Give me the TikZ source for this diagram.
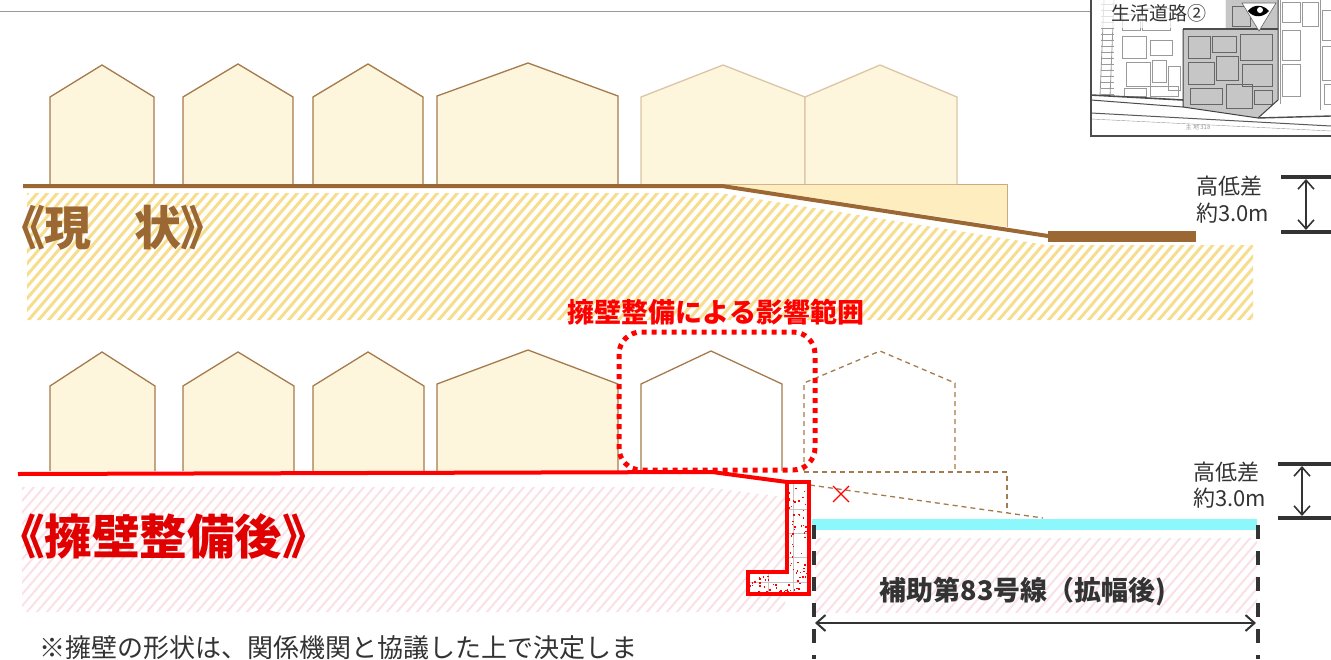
\documentclass[tikz,border=0pt]{standalone}
\usepackage{fontspec}
\newfontfamily\jp{Noto Sans CJK JP}
\newfontfamily\jpt[RawFeature={+palt}]{Noto Sans CJK JP}
\usetikzlibrary{arrows.meta}
\definecolor{soil}{HTML}{9B6733}
\definecolor{housefill}{HTML}{FDF5DC}
\definecolor{houseline}{HTML}{A57A4C}
\definecolor{houselight}{HTML}{DCC4A6}
\definecolor{boxfill}{HTML}{FEEDBF}
\definecolor{boxline}{HTML}{CCAA80}
\definecolor{hatchy}{HTML}{F6DE8E}
\definecolor{hatchp}{HTML}{FBE1E7}
\definecolor{wallred}{HTML}{FF0000}
\definecolor{titlered}{HTML}{E00000}
\definecolor{ink}{HTML}{333333}
\definecolor{roadcyan}{HTML}{8DF8FC}
\definecolor{mapgray}{HTML}{9A9A9A}
\definecolor{mapshade}{HTML}{C6C6C6}
\tikzset{
  house/.style={draw=houseline, fill=housefill, line width=1.3pt, line join=miter},
  houseghost/.style={draw=houselight, fill=housefill, line width=1.3pt},
  housedash/.style={draw=houseline, line width=1.3pt, dash pattern=on 5pt off 4pt},
  ystripe/.style={hatchy, line width=3pt},
  pstripe/.style={hatchp, line width=2pt},
  dimbar/.style={ink, line width=4pt},
  dimarrow/.style={ink, line width=1.6pt, {Straight Barb[length=9pt,width=16pt]}-{Straight Barb[length=9pt,width=16pt]}},
  limitline/.style={ink, line width=4pt, dash pattern=on 14pt off 12pt},
  mapline/.style={mapgray, line width=0.4pt},
  dimtext/.style={ink, font=\jp\fontsize{22}{26}\selectfont, inner sep=0pt, anchor=west, align=left},
  nowtitle/.style={text=soil, font=\jpt\bfseries\fontsize{47}{52}\selectfont, inner sep=0pt, anchor=west},
}
\begin{document}
\begin{tikzpicture}[x=1pt,y=-1pt]
\useasboundingbox (0,0) rectangle (1331,659);
\clip (0,0) rectangle (1331,659);

% ---------- upper section: present state ----------
\draw[mapgray, line width=1pt] (0,11) -- (1091,11);

% soil hatch
\begin{scope}
  \clip (27,193) -- (720,193) -- (1046,245) -- (1253,245) -- (1253,320) -- (27,320) -- cycle;
  \foreach \k in {-150,-140,...,1260} \draw[ystripe] (\k,330) -- ++(120,-140);
\end{scope}

% raised lot under the slope
\fill[boxfill] (722,184) -- (1007,184) -- (1007,227) -- cycle;
\draw[boxline, line width=1pt] (722,184) -- (1007,184) -- (1007,227);

% houses
\foreach \l/\r/\ax/\ay/\e in {50/154/102/65/97, 183/293/238/64/97, 313/423/368/64/97, 437/618/528/63/96}
  \draw[house] (\l,184) -- (\l,\e) -- (\ax,\ay) -- (\r,\e) -- (\r,184);
\foreach \l/\r/\ax/\ay/\e in {641/805/723/65/97, 805/957/880/65/97}
  \draw[houseghost] (\l,184) -- (\l,\e) -- (\ax,\ay) -- (\r,\e) -- (\r,184);

% ground line and road
\coordinate (g0) at (23,186);
\coordinate (g1) at (722,186);
\coordinate (g2) at (1048,236);
\draw[soil, line width=4pt] (g0) -- (g1) -- (g2);
\fill[soil] (1048,231) rectangle (1196,242);

% section title, set in two parts with a wide gap
\node[nowtitle] (tnowa) at (21,228) {《現};
\node[nowtitle] (tnowb) at (134,228) {状》};

% height difference (upper)
\coordinate (ua) at (1306,179);
\coordinate (ub) at (1306,230);
\draw[dimbar] (1281,177) -- (1331,177);
\draw[dimbar] (1281,232) -- (1331,232);
\draw[dimarrow] (ua) -- (ub);
\node[dimtext] (uh1) at (1196,186) {高低差};
\node[dimtext] (uh2) at (1196,213) {約3.0m};

% ---------- map inset ----------
\begin{scope}
  \clip (1091,0) rectangle (1331,136);
  \fill[white] (1091,0) rectangle (1331,136);
  % railway
  \draw[mapline, line width=0.8pt] (1104,0) -- (1100,96);
  \draw[mapline, line width=0.8pt] (1114,0) -- (1110,96);
  \foreach \t in {4,10,...,94} \draw[mapline] (1101,\t) -- (1114,\t);
  % blocks
  \foreach \a/\b/\c/\d in {1122/36/1146/58, 1150/40/1172/55, 1126/62/1150/86, 1152/60/1166/82, 1168/66/1180/90,
      1150/86/1178/96, 1124/88/1146/96, 1122/14/1140/30, 1142/8/1170/30, 1282/2/1300/22, 1302/2/1318/26,
      1322/10/1331/40, 1322/46/1331/80, 1324/84/1331/104, 1282/30/1300/60, 1282/64/1300/96}
    \draw[mapline] (\a,\b) rectangle (\c,\d);
  % zone
  \fill[mapshade] (1183,30) -- (1225,30) -- (1225,0) -- (1278,0) -- (1278,100) -- (1258,118) -- (1183,107) -- cycle;
  \foreach \a/\b/\c/\d in {1188/36/1210/58, 1212/36/1236/52, 1240/34/1272/60, 1188/62/1214/84, 1216/56/1238/80,
      1242/64/1272/86, 1190/88/1222/104, 1226/84/1252/108, 1254/90/1272/104, 1232/6/1250/26}
    \draw[mapline, gray!80!black] (\a,\b) rectangle (\c,\d);
  \draw[gray!60!black, line width=2.5pt] (1183,29) -- (1278,29);
  \draw[gray!50!black, line width=1pt] (1183,29) -- (1183,107) -- (1258,118) -- (1278,100) -- (1278,0);
  % roads
  \draw[black!70, line width=1.6pt] (1091,95) -- (1183,100);
  \draw[black!70, line width=1pt] (1091,100) -- (1183,107);
  \draw[black!70, line width=1.4pt] (1258,118) -- (1331,116);
  \draw[black!65, line width=1pt] (1091,113) -- (1331,126);
  \draw[mapline] (1091,119) -- (1331,131);
  \draw[mapline] (1280,0) -- (1280,104);
  \draw[mapline] (1320,0) -- (1320,110);
  \node[mapgray, font=\jp\fontsize{6}{7}\selectfont, inner sep=0pt] (maproute) at (1198,127) {主 地 318};
  % label and viewpoint mark
  \fill[white, opacity=0.72] (1091,0) rectangle (1226,28);
  \node[ink, font=\jp\fontsize{19}{21}\selectfont, inner sep=0pt] (maplabel) at (1159,13) {生活道路②};
  \filldraw[fill=white, draw=black!60, line width=0.6pt] (1242,3) -- (1276,3) -- (1259,31) -- cycle;
  \fill[black] (1248,11) .. controls (1253,4) and (1263,4) .. (1269,11) .. controls (1263,18) and (1253,18) .. (1248,11) -- cycle;
  \fill[white] (1260,10) circle (3);
\end{scope}
\draw[black!70, line width=1.2pt] (1091,0) -- (1091,136) -- (1331,136);

% ---------- lower section: after the retaining wall ----------
\begin{scope}
  \clip (22,487) -- (705,487) -- (785,497) -- (785,612) -- (22,612) -- cycle;
  \foreach \k in {-150,-140,...,800} \draw[pstripe] (\k,620) -- ++(120,-140);
\end{scope}
\begin{scope}
  \clip (815,538) rectangle (1257,612);
  \foreach \k in {680,690,...,1260} \draw[pstripe] (\k,620) -- ++(120,-140);
\end{scope}

% houses
\foreach \l/\r/\ax/\ay/\e in {50/155/102/352/386, 183/294/238/352/386, 313/424/368/352/386, 437/618/528/350/384}
  \draw[house] (\l,471) -- (\l,\e) -- (\ax,\ay) -- (\r,\e) -- (\r,471);
\draw[house, fill=white] (641,471) -- (641,384) -- (711,351) -- (782,384) -- (782,471);
\draw[housedash] (804,471) -- (804,383) -- (880,351) -- (955,383) -- (955,471);

% former ground (removed)
\draw[housedash] (804,472) -- (1007,472) -- (1007,513);
\coordinate (os0) at (810,485);
\coordinate (os1) at (1043,518);
\draw[housedash] (os0) -- (os1);
\draw[wallred, line width=1.3pt] (833,486) -- (849,502) (833,502) -- (849,486);

% widened road
\fill[roadcyan] (812,519) rectangle (1257,530);
\coordinate (la) at (814,525);
\coordinate (lb) at (814,659);
\coordinate (ra) at (1258,525);
\coordinate (rb) at (1258,659);
\draw[limitline] (la) -- (lb);
\draw[limitline] (ra) -- (rb);
\coordinate (wa) at (815,623);
\coordinate (wb) at (1256,623);
\draw[dimarrow, line width=2pt] (wa) -- (wb);
\node[ink, font=\jp\bfseries\fontsize{27}{30}\selectfont, inner sep=0pt] (roadname) at (1023,592) {補助第83号線（拡幅後)};

% retaining wall
\begin{scope}
  \clip (787,482) -- (809,482) -- (809,594) -- (748,594) -- (748,572) -- (787,572) -- cycle;
  \fill[white] (740,480) rectangle (812,596);
  \draw[gray!45, line width=0.8pt] (787,509) -- (809,509) (787,533) -- (809,533) (787,557) -- (809,557)
     (748,582) -- (809,582) (793,482) -- (793,594) (768,572) -- (768,594);
  \pgfmathsetseed{7}
  \foreach \i in {1,...,190}{
    \pgfmathsetmacro{\dx}{747+63*rnd}
    \pgfmathsetmacro{\dy}{481+114*rnd}
    \fill[wallred] (\dx,\dy) rectangle ++(1.5,1.5);
  }
\end{scope}
\coordinate (w0) at (18,474);
\coordinate (w1) at (712,472);
\coordinate (w2) at (787,482);
\draw[wallred, line width=4pt, line join=miter] (w0) -- (w1) -- (w2);
\draw[wallred, line width=4pt, line join=miter] (787,482) -- (809,482) -- (809,594) -- (748,594) -- (748,572) -- (787,572) -- cycle;

% affected range
\draw[wallred, line width=5pt, dash pattern=on 5pt off 5pt, rounded corners=22pt] (619,332) rectangle (815,470);
\node[wallred, font=\jp\bfseries\fontsize{27}{30}\selectfont, inner sep=0pt] (range) at (716,312) {擁壁整備による影響範囲};

\node[text=titlered, font=\jpt\bfseries\fontsize{47.5}{52}\selectfont, inner sep=0pt, anchor=west] (tafter) at (21,536) {《擁壁整備後》};

% height difference (lower)
\coordinate (da) at (1302,466);
\coordinate (db) at (1302,516);
\draw[dimbar] (1278,464) -- (1331,464);
\draw[dimbar] (1278,518) -- (1331,518);
\draw[dimarrow] (da) -- (db);
\node[dimtext] (dh1) at (1193,472) {高低差};
\node[dimtext] (dh2) at (1193,498) {約3.0m};

% note
\node[ink, font=\jp\fontsize{26}{29}\selectfont, inner sep=0pt, anchor=north west] (note) at (39,635) {※擁壁の形状は、関係機関と協議した上で決定しま};
\end{tikzpicture}
\end{document}
